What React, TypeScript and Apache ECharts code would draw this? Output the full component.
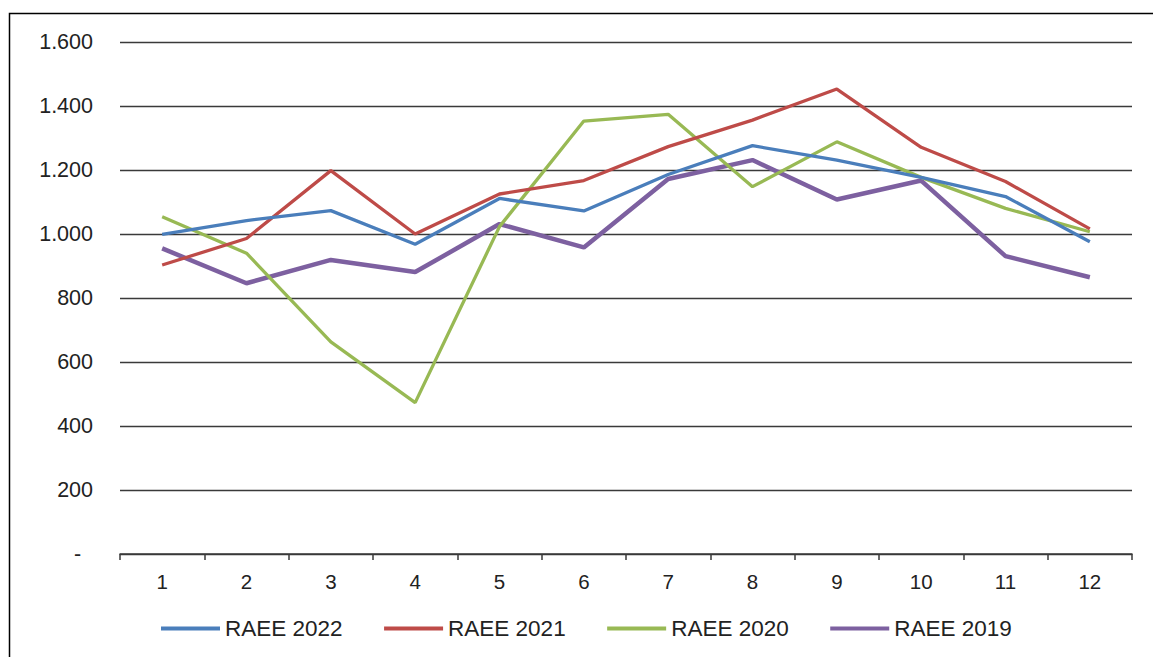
import React, { useEffect, useRef } from "react";
import * as echarts from "echarts";

const months = ["1", "2", "3", "4", "5", "6", "7", "8", "9", "10", "11", "12"];
const raee2022 = [999, 1042, 1073, 968, 1111, 1072, 1186, 1276, 1231, 1177, 1117, 976];
const raee2021 = [903, 986, 1198, 1000, 1125, 1167, 1273, 1356, 1453, 1271, 1164, 1016];
const raee2020 = [1054, 940, 663, 473, 1023, 1353, 1374, 1148, 1288, 1177, 1080, 1007];
const raee2019 = [955, 846, 919, 881, 1031, 958, 1172, 1231, 1108, 1167, 931, 865];

const seriesNames = ["RAEE 2022", "RAEE 2021", "RAEE 2020", "RAEE 2019"];
const seriesColors = ["#4a7ebb", "#be4b48", "#98b954", "#7d60a0"];
const seriesWidths = [3.3, 3.3, 3.3, 4.5];

const FONT = "'Liberation Sans', Arial, sans-serif";

function fmt(v: number): string {
  if (v === 0) return "-  ";
  return String(v).replace(/\B(?=(\d{3})+(?!\d))/g, ".");
}

export default function App() {
  const ref = useRef<HTMLDivElement>(null);
  useEffect(() => {
    document.body.style.margin = "0";
    const chart = echarts.init(ref.current!, undefined, { renderer: "svg" });
    const data = [raee2022, raee2021, raee2020, raee2019];
    chart.setOption({
      animation: false,
      backgroundColor: "#ffffff",
      grid: { left: 120, right: 21, top: 42, bottom: 103, containLabel: false },
      xAxis: {
        type: "category",
        data: months,
        boundaryGap: true,
        axisLine: { lineStyle: { color: "#3a3a3a", width: 1.5 } },
        axisTick: { show: true, length: 6, alignWithLabel: false, lineStyle: { color: "#3a3a3a", width: 1.5 } },
        axisLabel: { color: "#222", fontSize: 20.5, fontFamily: FONT, margin: 17 },
      },
      yAxis: {
        type: "value",
        min: 0,
        max: 1600,
        interval: 200,
        axisLine: { show: false },
        axisTick: { show: false },
        splitLine: { lineStyle: { color: "#3a3a3a", width: 1.3 } },
        axisLabel: { color: "#222", fontSize: 21.5, fontFamily: FONT, margin: 27, formatter: fmt },
      },
      legend: {
        left: 161,
        top: 617,
        padding: 0,
        icon: "rect",
        itemWidth: 59,
        itemHeight: 4,
        itemGap: 41.5,
        textStyle: { color: "#222", fontSize: 22.5, fontFamily: FONT, width: 121 },
        data: seriesNames,
      },
      graphic: [
        {
          type: "polyline",
          shape: { points: [[9.5, 657], [9.5, 13.5], [1153, 13.5]] },
          style: { stroke: "#000", lineWidth: 1.5, fill: "none" },
        },
      ],
      series: seriesNames.map((name, i) => ({
        name,
        type: "line",
        data: data[i],
        symbol: "none",
        showSymbol: false,
        color: seriesColors[i],
        lineStyle: { color: seriesColors[i], width: seriesWidths[i] },
        z: 10 - i,
      })),
    });
    return () => chart.dispose();
  }, []);
  return <div ref={ref} style={{ width: 1153, height: 657 }} />;
}
